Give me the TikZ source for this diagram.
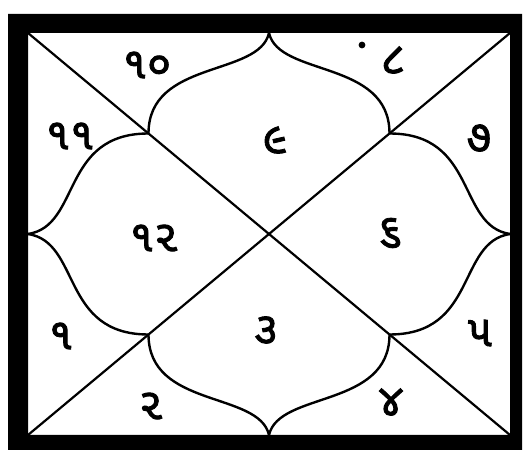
\documentclass[tikz,border=0pt]{standalone}
\usepackage{fontspec}
\newfontfamily\gujfont[Script=Gujarati, FakeBold=2]{Noto Sans Gujarati UI}
\begin{document}
\begin{tikzpicture}[x=1pt,y=-1pt,
  lbl/.style={font=\gujfont\fontsize{44}{46}\selectfont, inner sep=0pt},
  petal/.style={line width=2.4pt, line join=round},
  diag/.style={line width=2.2pt}]
\useasboundingbox (0,0) rectangle (528,454);
\fill[white] (0,0) rectangle (528,454);
% frame
\fill[black, even odd rule] (8,14) rectangle (522,450) (28,33) rectangle (510,435);
% key points
\coordinate (TL) at (28,33);
\coordinate (TR) at (510,33);
\coordinate (BL) at (28,435);
\coordinate (BR) at (510,435);
\coordinate (T) at (269,33);
\coordinate (B) at (269,435);
\coordinate (L) at (28,234);
\coordinate (R) at (510,234);
\coordinate (Qtl) at (148.5,133.5);
\coordinate (Qtr) at (389.5,133.5);
\coordinate (Qbl) at (148.5,334.5);
\coordinate (Qbr) at (389.5,334.5);
% diagonals
\draw[diag] (TL) -- (BR);
\draw[diag] (TR) -- (BL);
% petals (onion-dome curves)
\begin{scope}[petal]
\draw (T) .. controls +(-10,44) and +(0,-74) .. (Qtl);
\draw (T) .. controls +(10,44) and +(0,-74) .. (Qtr);
\draw (B) .. controls +(-10,-44) and +(0,74) .. (Qbl);
\draw (B) .. controls +(10,-44) and +(0,74) .. (Qbr);
\draw (L) .. controls +(53,-8) and +(-88,0) .. (Qtl);
\draw (L) .. controls +(53,8) and +(-88,0) .. (Qbl);
\draw (R) .. controls +(-53,-8) and +(88,0) .. (Qtr);
\draw (R) .. controls +(-53,8) and +(88,0) .. (Qbr);
\end{scope}
% labels
\node[lbl] (n10) at (147,65) {૧૦};
\fill (362,45) circle (3.4pt);
\node[lbl] (n8) at (393,60) {૮};
\node[lbl] (n11) at (70,136) {૧૧};
\node[lbl] (n9) at (275,140) {૯};
\node[lbl] (n7) at (479,138) {૭};
\node[lbl] (n12) at (154,238) {૧૨};
\node[lbl] (n6) at (390,233) {૬};
\node[lbl] (n1) at (61,336) {૧};
\node[lbl] (n3) at (266,330) {૩};
\node[lbl] (n5) at (480,333) {૫};
\node[lbl] (n2) at (151,406) {૨};
\node[lbl] (n4) at (391,402) {૪};
\end{tikzpicture}
\end{document}
